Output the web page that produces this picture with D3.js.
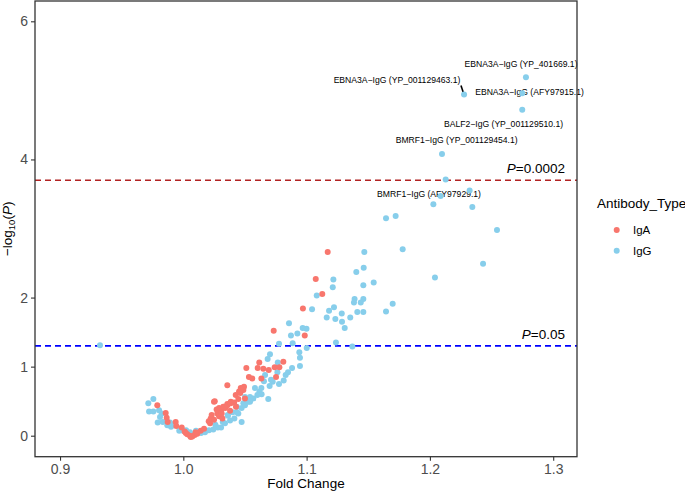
<!DOCTYPE html>
<html><head><meta charset="utf-8">
<script src="https://cdn.jsdelivr.net/npm/d3@7"></script>
<style>body{margin:0;background:#fff}svg{display:block}text{font-family:"Liberation Sans",Arial,sans-serif}</style>
</head><body><svg id="c" width="685" height="492"></svg>
<script>
// ---- data ----
const xTicks = [0.9, 1.0, 1.1, 1.2, 1.3];
const xTickLabels = ["0.9", "1.0", "1.1", "1.2", "1.3"];
const yTicks = [0, 1, 2, 4, 6];
const yTickLabels = ["0", "1", "2", "4", "6"];
const groups = ["IgA", "IgG"];
const groupColors = ["#F8766D", "#87CEEB"];
const thresholds = [3.699, 1.301];
const thresholdLabels = ["0.0002", "0.05"];
const thresholdColors = ["#B22222", "#0000FF"];

const igaFC = [0.9789,0.9857,0.9865,0.9873,0.9938,0.9943,0.9987,1.0011,1.0032,1.0054,1.0073,1.0092,1.0113,1.0141,1.0168,1.0206,1.0217,1.0222,1.0249,1.0249,1.0276,1.0290,1.0308,1.0317,1.0330,1.0357,1.0357,1.0385,1.0412,1.0425,1.0452,1.0466,1.0492,1.0511,1.0532,1.0559,1.0616,1.0603,1.0649,1.0693,1.0633,1.0741,1.0779,1.0811,1.0752,1.0733,1.0970,1.0985,1.1074,1.1127,1.1171,1.0476,1.0462,1.0255,1.0020,1.0060,1.0100,1.0270,1.0340,1.0230,
1.0290,1.0324,1.0357,1.0384,1.0311,1.0379,1.0427,1.0446,1.0487,1.0500];
const igaLogP = [0.44,0.33,0.26,0.20,0.20,0.14,0.12,0.06,0.02,0.00,-0.01,0.01,0.03,0.07,0.10,0.21,0.18,0.25,0.23,0.49,0.32,0.28,0.37,0.25,0.42,0.46,0.73,0.49,0.48,0.59,0.64,0.69,0.71,0.98,0.85,0.83,1.06,0.98,0.97,0.95,0.83,0.99,0.99,1.07,0.85,1.52,1.84,1.45,2.27,2.05,2.66,0.68,0.62,0.50,0.04,-0.02,0.05,0.38,0.40,0.30,
0.40,0.42,0.44,0.47,0.32,0.36,0.42,0.53,0.66,0.54];

const iggFC = [1.2779,1.2277,1.2749,1.2749,1.2098,1.2128,1.2087,1.2322,1.2028,1.2344,1.2544,1.2431,1.2041,1.1644,1.1722,1.1779,1.1468,1.1403,1.1463,1.1544,1.1460,1.1217,1.1212,1.1082,1.1389,1.1460,1.1384,1.1439,1.1698,1.1044,1.1222,1.1182,1.1285,1.1411,1.1460,1.1644,1.1163,1.1233,1.1354,1.1287,1.1309,1.0857,1.0968,1.0999,1.0925,1.0873,1.0887,1.0776,1.1238,1.1371,1.1001,1.0941,1.0946,1.0946,1.0703,1.0684,1.0766,0.9324,
1.0654,1.0711,1.0725,1.0776,1.0814,1.0633,1.0581,1.0617,1.0689,1.0635,1.0568,1.0600,1.0541,1.0500,1.0527,1.0487,1.0433,1.0473,1.0446,1.0414,1.0379,1.0338,1.0473,1.0306,1.0279,1.0243,1.0208,1.0176,1.0144,0.9999,0.9967,0.9927,0.9900,0.9870,0.9833,0.9792,0.9811,0.9825,0.9803,0.9722,0.9757,0.9716,0.9757,0.9892,1.0763,1.0830,1.0700,1.0360,1.0400,1.0260,1.0320,
1.0500,1.0541,1.0436,1.0362,1.0103,1.0054,1.0022,1.0663,1.0849,1.0882];
const iggLogP = [5.19,4.94,4.96,4.72,4.08,3.71,3.47,3.55,3.35,3.31,2.98,2.49,2.29,3.15,3.18,2.70,2.66,2.37,2.43,2.22,2.18,2.26,2.15,2.03,1.98,1.98,1.93,1.93,1.91,1.83,1.86,1.81,1.77,1.79,1.79,1.80,1.71,1.69,1.71,1.65,1.56,1.63,1.56,1.55,1.48,1.45,1.34,1.33,1.35,1.29,1.27,1.21,1.13,1.01,1.18,1.11,1.06,1.31,
0.79,0.81,0.78,0.75,0.80,0.69,0.69,0.64,0.53,0.60,0.54,0.59,0.56,0.56,0.49,0.47,0.42,0.40,0.32,0.25,0.22,0.18,0.20,0.12,0.12,0.09,0.08,0.05,0.04,0.07,0.07,0.15,0.13,0.15,0.20,0.19,0.27,0.32,0.37,0.35,0.35,0.47,0.53,0.19,0.92,0.88,0.72,0.30,0.34,0.16,0.20,
0.44,0.49,0.34,0.29,0.07,0.05,0.08,0.88,0.92,0.98];

const labelTexts = ["EBNA3A\u2212IgG (YP_401669.1)","EBNA3A\u2212IgG (YP_001129463.1)","EBNA3A\u2212IgG (AFY97915.1)","BALF2\u2212IgG (YP_001129510.1)","BMRF1\u2212IgG (YP_001129454.1)","BMRF1\u2212IgG (AFY97929.1)"];
const labelFC = [1.2739,1.1733,1.2808,1.2597,1.2217,1.1993];
const labelLogP = [5.338,5.102,4.937,4.465,4.233,3.460];
const segFC = [1.2252,1.2272];
const segLogP = [5.070,4.962];

// ---- chart ----
const svg = d3.select("#c");
const L = 35, R = 577, T = 1, B = 456.7;
const x = d3.scaleLinear().domain([0.8797, 1.3193]).range([L, R]);
const y = d3.scaleLinear().domain([-0.304, 6.294]).range([B, T]);

svg.append("rect").attr("width",685).attr("height",492).attr("fill","#fff");

// threshold lines
thresholds.forEach((t,i)=>{
  svg.append("line").attr("x1",L).attr("x2",R).attr("y1",y(t)).attr("y2",y(t))
    .attr("stroke",thresholdColors[i]).attr("stroke-width",1.6).attr("stroke-dasharray","6,4");
  const tx = svg.append("text").attr("x",565).attr("y",y(t)-7).attr("text-anchor","end")
    .attr("font-size",13.5).attr("fill","#000");
  tx.append("tspan").attr("font-style","italic").text("P");
  tx.append("tspan").text("=" + thresholdLabels[i]);
});

// labels
svg.append("g").selectAll("text").data(labelTexts).join("text")
  .attr("x",(d,i)=>x(labelFC[i])).attr("y",(d,i)=>y(labelLogP[i]))
  .attr("text-anchor","middle").attr("font-size",8.6).attr("fill","#000").text(d=>d);
svg.append("line").attr("x1",x(segFC[0])).attr("y1",y(segLogP[0])).attr("x2",x(segFC[1])).attr("y2",y(segLogP[1]))
  .attr("stroke","#000").attr("stroke-width",1.6);

// points
const igg = iggFC.map((v,i)=>({x:v,y:iggLogP[i]}));
const iga = igaFC.map((v,i)=>({x:v,y:igaLogP[i]}));
svg.append("g").selectAll("circle").data(igg).join("circle")
  .attr("cx",d=>x(d.x)).attr("cy",d=>y(d.y)).attr("r",3).attr("fill",groupColors[1]);
svg.append("g").selectAll("circle").data(iga).join("circle")
  .attr("cx",d=>x(d.x)).attr("cy",d=>y(d.y)).attr("r",3).attr("fill",groupColors[0]);

// panel border
svg.append("rect").attr("x",L).attr("y",T).attr("width",R-L).attr("height",B-T)
  .attr("fill","none").attr("stroke","#333").attr("stroke-width",1.3);

// axes
const xa = svg.append("g").attr("transform",`translate(0,${B})`)
  .call(d3.axisBottom(x).tickValues(xTicks).tickFormat((d,i)=>xTickLabels[i]).tickSize(4).tickPadding(3));
const ya = svg.append("g").attr("transform",`translate(${L},0)`)
  .call(d3.axisLeft(y).tickValues(yTicks).tickFormat((d,i)=>yTickLabels[i]).tickSize(4).tickPadding(3));
[xa,ya].forEach(a=>{
  a.select(".domain").remove();
  a.selectAll(".tick line").attr("stroke","#333").attr("stroke-width",1.1);
  a.selectAll(".tick text").attr("fill","#4D4D4D").attr("font-size",14).attr("font-family","Liberation Sans, Arial, sans-serif");
});

// axis titles
svg.append("text").attr("x",(L+R)/2).attr("y",488).attr("text-anchor","middle")
  .attr("font-size",13.5).attr("fill","#000").text("Fold Change");
const yt = svg.append("text").attr("transform",`translate(12,${(T+B)/2}) rotate(-90)`)
  .attr("text-anchor","middle").attr("font-size",13.5).attr("fill","#000");
yt.append("tspan").text("\u2212log");
yt.append("tspan").attr("font-size",9.5).attr("dy",3).text("10");
yt.append("tspan").attr("dy",-3).text("(");
yt.append("tspan").attr("font-style","italic").text("P");
yt.append("tspan").text(")");

// legend
svg.append("text").attr("x",597).attr("y",208).attr("font-size",13.5).attr("fill","#000").text("Antibody_Type");
groups.forEach((g,i)=>{
  const cy = 230 + i*20.7;
  svg.append("circle").attr("cx",616.7).attr("cy",cy).attr("r",3).attr("fill",groupColors[i]);
  svg.append("text").attr("x",633).attr("y",cy+4.3).attr("font-size",11.5).attr("fill","#000").text(g);
});
</script></body></html>
